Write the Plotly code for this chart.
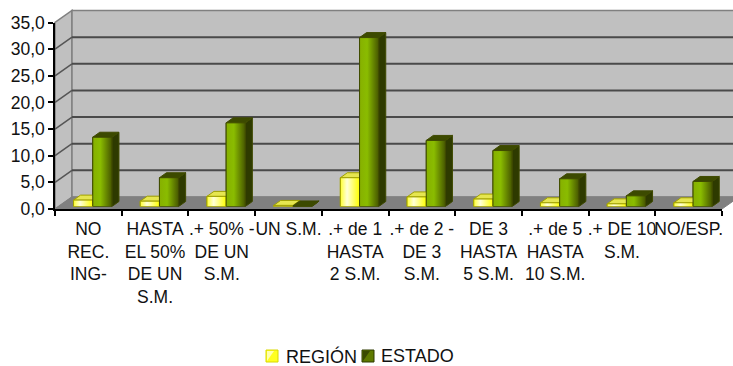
import plotly.graph_objects as go

categories = ["NO<br>REC.<br>ING-", "HASTA<br>EL 50%<br>DE UN<br>S.M.", ".+ 50% -<br>DE UN<br>S.M.", "UN S.M.",
              ".+ de 1<br>HASTA<br>2 S.M.", ".+ de 2 -<br>DE 3<br>S.M.", "DE 3<br>HASTA<br>5 S.M.",
              ".+ de 5<br>HASTA<br>10 S.M.", ".+ DE 10<br>S.M.", "NO/ESP."]
region = [1.2, 1.0, 1.9, 0.2, 5.4, 1.8, 1.4, 0.7, 0.5, 0.7]
estado = [13.0, 5.4, 15.7, 0.1, 31.7, 12.4, 10.5, 5.2, 2.0, 4.7]
ticks = [0, 5, 10, 15, 20, 25, 30, 35]

W, H = 733, 366
L, R, B, T = 55, 722, 209, 22.5
DX, DY = 17, 12
SX, SY = 4.4, 2.5
PXU = (R - L) / 10
PYU = (B - T) / 35
BW = 19.2 / PXU
DDX, DDY = 7 / PXU, 5 / PYU
px = lambda x: x / W
py = lambda y: 1 - y / H


def path(points):
    return "M " + " L ".join(f"{px(x):.5f},{py(y):.5f}" for x, y in points) + " Z"


shapes = [
    dict(type="path", path=path([(L, B), (L + DX, B - DY), (L + DX, T - DY), (L, T)]),
         fillcolor="#c0c0c0", line=dict(color="#808080", width=1.5)),
    dict(type="path", path=path([(L + DX, B - DY), (R + DX, B - DY), (R + DX, T - DY), (L + DX, T - DY)]),
         fillcolor="#c0c0c0", line=dict(color="#808080", width=1.5)),
    dict(type="path", path=path([(L, B), (L + DX, B - DY), (R + DX, B - DY), (R, B)]),
         fillcolor="#808080", line=dict(color="#808080", width=1)),
]
for v in ticks[1:-1]:
    yb = B - DY - v * PYU
    shapes.append(dict(type="line", x0=px(L + DX), x1=px(R + DX), y0=py(yb), y1=py(yb),
                       line=dict(color="#4a4a4a", width=2)))
    shapes.append(dict(type="line", x0=px(L), x1=px(L + DX), y0=py(yb + DY), y1=py(yb),
                       line=dict(color="#555555", width=1.5)))
for s in shapes:
    s.update(xref="paper", yref="paper", layer="below")

# legend swatches
for sx, c1, c2, edge in [(266, "#ffff20", "#ffffb0", "#d8d800"), (362, "#5f7a00", "#3a4a00", "#2e3a00")]:
    shapes.append(dict(type="rect", xref="paper", yref="paper", x0=px(sx), x1=px(sx + 12), y0=py(362), y1=py(350),
                       fillcolor=c1, line=dict(color=edge, width=1)))
    shapes.append(dict(type="path", xref="paper", yref="paper",
                       path=path([(sx + 1, 361), (sx + 1, 351), (sx + 8, 351)]), fillcolor=c2,
                       line=dict(width=0)))

fig = go.Figure()
fig.add_trace(go.Scatter(x=categories, y=[0] * 10, mode="markers", marker=dict(opacity=0),
                         showlegend=False, hoverinfo="skip", xaxis="x", yaxis="y"))

series = [
    ("REGIÓN", region, -BW, "#ffff00", "#a0a000",
     [[0, "#ffff30"], [0.35, "#ffffd8"], [1, "#ffff00"]], "#e6e650", "#d8d820"),
    ("ESTADO", estado, 0.0, "#7f9f00", "#3f4a00",
     [[0, "#86b000"], [0.4, "#8abc00"], [1, "#465600"]], "#3c4a00", "#2e3a00"),
]
for name, vals, off, col, edge, grad, topc, sidec in series:
    fig.add_trace(go.Bar(x=list(range(10)), y=vals, width=BW, offset=off, name=name, showlegend=False,
                         marker=dict(color=col, line=dict(color=edge, width=1)), xaxis="x2", yaxis="y2"))
for name, vals, off, col, edge, grad, topc, sidec in series:
    for i, v in enumerate(vals):
        x0, x1 = i + off, i + off + BW
        fig.add_trace(go.Scatter(x=[x1, x1 + DDX, x1 + DDX, x1, x1], y=[0, DDY, v + DDY, v, 0], mode="lines",
                                 fill="toself", fillcolor=sidec, line=dict(color=edge, width=1),
                                 showlegend=False, hoverinfo="skip", xaxis="x2", yaxis="y2"))
        fig.add_trace(go.Scatter(x=[x0, x0 + DDX, x1 + DDX, x1, x0], y=[v, v + DDY, v + DDY, v, v], mode="lines",
                                 fill="toself", fillcolor=topc, line=dict(color=edge, width=1),
                                 showlegend=False, hoverinfo="skip", xaxis="x2", yaxis="y2"))
        fig.add_trace(go.Scatter(x=[x0, x1, x1, x0, x0], y=[0, 0, v, v, 0], mode="lines", fill="toself",
                                 fillgradient=dict(type="horizontal", colorscale=grad),
                                 line=dict(color=edge, width=1),
                                 showlegend=False, hoverinfo="skip", xaxis="x2", yaxis="y2"))

FONT = dict(family="Liberation Sans", size=17.5, color="#111111")
LEG = dict(family="Liberation Sans", size=18, color="#111111")
annotations = [
    dict(text="REGIÓN", x=px(283.5), y=py(356), xref="paper", yref="paper", xanchor="left", yanchor="middle",
         showarrow=False, font=LEG),
    dict(text="ESTADO", x=px(378.5), y=py(356), xref="paper", yref="paper", xanchor="left", yanchor="middle",
         showarrow=False, font=LEG),
]
fig.update_layout(
    width=W, height=H, margin=dict(l=0, r=0, t=0, b=0, autoexpand=False), paper_bgcolor="white",
    plot_bgcolor="rgba(0,0,0,0)", font=FONT, separators=",.", barmode="overlay", shapes=shapes,
    annotations=annotations, showlegend=False,
    xaxis=dict(domain=[px(L), px(R)], type="category", categoryorder="array", categoryarray=categories,
               range=[-0.5, 9.5], tickson="boundaries", ticks="outside", ticklen=5, tickcolor="black", tickwidth=1.5,
               showline=True, linecolor="black", linewidth=1.5, showgrid=False, tickangle=0, anchor="y",
               tickfont=FONT, fixedrange=True, automargin=False, ticklabelstandoff=3),
    yaxis=dict(domain=[py(B), py(T)], range=[0, 35], tickvals=ticks, tickformat=".1f", ticks="outside", ticklen=5,
               tickcolor="black", tickwidth=1.5, showline=True, linecolor="black", linewidth=1.5,
               showgrid=False, zeroline=False, anchor="x", tickfont=FONT, fixedrange=True, automargin=False),
    xaxis2=dict(domain=[px(L + SX), px(R + SX)], range=[-0.5, 9.5], visible=False, anchor="y2", fixedrange=True),
    yaxis2=dict(domain=[py(B - SY), py(T - SY)], range=[0, 35], visible=False, anchor="x2", fixedrange=True),
)
fig.write_html("out.html", config=dict(displayModeBar=False),
               post_script="document.body.style.margin='0';document.body.style.overflow='hidden';")
